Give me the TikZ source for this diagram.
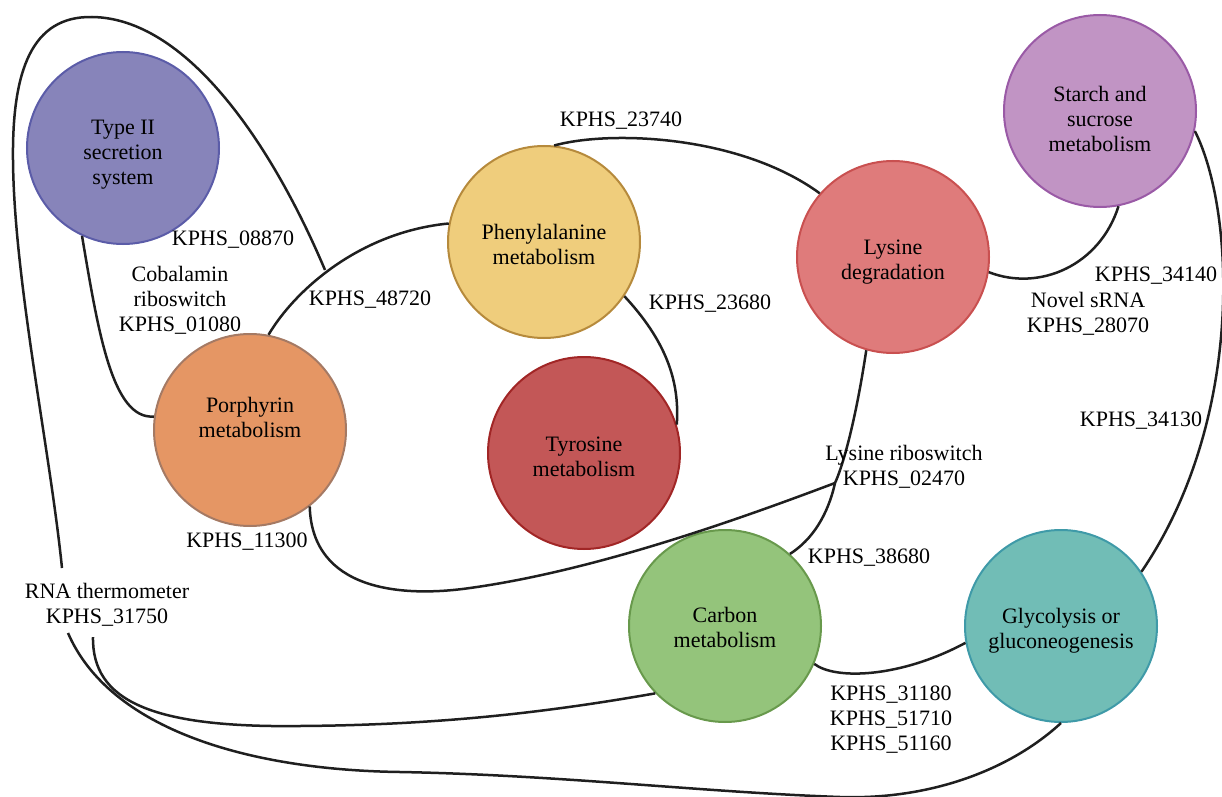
\documentclass[tikz,border=0pt]{standalone}
\usepackage{fontspec}
\setmainfont{Liberation Serif}
\definecolor{tFill}{HTML}{8784BA}\definecolor{tLine}{HTML}{5B5CA8}
\definecolor{pFill}{HTML}{EFCD7C}\definecolor{pLine}{HTML}{B68A3C}
\definecolor{lFill}{HTML}{DF7B7B}\definecolor{lLine}{HTML}{C95050}
\definecolor{sFill}{HTML}{C194C4}\definecolor{sLine}{HTML}{9A5AA6}
\definecolor{oFill}{HTML}{E59664}\definecolor{oLine}{HTML}{A57A64}
\definecolor{yFill}{HTML}{C35757}\definecolor{yLine}{HTML}{A12626}
\definecolor{cFill}{HTML}{94C47B}\definecolor{cLine}{HTML}{68994C}
\definecolor{gFill}{HTML}{71BDB6}\definecolor{gLine}{HTML}{3F9AA8}
\newcommand{\tpad}[1]{\rule{0pt}{#1pt}}
\begin{document}
\begin{tikzpicture}[x=0.5pt,y=-0.5pt,
  link/.style={draw=black!88, line width=1.25pt},
  pw/.style={circle, minimum size=96pt, inner sep=0pt, line width=1pt, align=center,
             font=\fontsize{11}{12.5}\selectfont},
  lab/.style={align=center, inner sep=0pt, font=\fontsize{11}{12.5}\selectfont}]
\useasboundingbox (0,0) rectangle (1222,797);

\coordinate (j1) at (325,270);
\coordinate (j2) at (835,483);
\coordinate (rnaTop) at (62,568);
\coordinate (rnaA) at (93,637);
\coordinate (rnaB) at (68,633);

% pathway circles
\node[pw, fill=tFill, draw=tLine] (t2)  at (123,148) {\tpad{13.5}Type II\\secretion\\system};
\node[pw, fill=pFill, draw=pLine] (phe) at (544,242) {\tpad{10.5}Phenylalanine\\metabolism};
\node[pw, fill=lFill, draw=lLine] (lys) at (893,257) {\tpad{12.5}Lysine\\degradation};
\node[pw, fill=sFill, draw=sLine] (sta) at (1100,111) {\tpad{15.5}Starch and\\sucrose\\metabolism};
\node[pw, fill=oFill, draw=oLine] (por) at (250,430) {Porphyrin\\metabolism\\~};
\node[pw, fill=yFill, draw=yLine] (tyr) at (584,453) {\tpad{11.5}Tyrosine\\metabolism};
\node[pw, fill=cFill, draw=cLine] (car) at (725,626) {\tpad{9.5}Carbon\\metabolism};
\node[pw, fill=gFill, draw=gLine] (gly) at (1061,626) {\tpad{12.5}Glycolysis or\\gluconeogenesis};

% connectors
\draw[link] (por.79.5) .. controls (295,290) and (360,232) .. (phe.169);
\draw[link] (j1) .. controls (270,140) and (185,18) .. (92,17)
   .. controls (32,16) and (12,70) .. (13,160)
   .. controls (14,280) and (50,450) .. (rnaTop);
\draw[link] (t2.245.8) .. controls (98,330) and (112,420) .. (por.172.8);
\draw[link] (por.308) .. controls (312,590) and (400,598) .. (470,588)
   .. controls (600,570) and (750,515) .. (j2);
\draw[link] (lys.254.7) .. controls (855,425) and (842,468) .. (j2)
   .. controls (828,515) and (812,540) .. (car.48.4);
\draw[link] (phe.84.7) .. controls (610,130) and (740,135) .. (lys.139.4);
\draw[link] (phe.326.8) .. controls (665,340) and (680,380) .. (tyr.17.7);
\draw[link] (lys.351) .. controls (1040,292) and (1100,265) .. (sta.281.7);
\draw[link] (sta.348.3) .. controls (1235,210) and (1245,420) .. (gly.34.8);
\draw[link] (car.337.4) .. controls (835,680) and (900,678) .. (gly.190.1);
\draw[link] (car.224.6) .. controls (560,710) and (450,725) .. (300,726)
   .. controls (150,728) and (92,700) .. (rnaA);
\draw[link] (gly.270) .. controls (1010,770) and (930,800) .. (840,797)
   .. controls (700,792) and (560,775) .. (400,772)
   .. controls (250,770) and (110,730) .. (rnaB);

% labels
\node[lab] (l08870) at (233,240) {KPHS\_08870};
\node[lab] (lcob)   at (180,300) {Cobalamin\\riboswitch\\KPHS\_01080};
\node[lab] (l48720) at (370,300) {KPHS\_48720};
\node[lab] (l23740) at (621,121) {KPHS\_23740};
\node[lab] (l23680) at (710,304) {KPHS\_23680};
\node[lab] (l34140) at (1156,276) {KPHS\_34140};
\node[lab] (lnov)   at (1088,314) {Novel sRNA\\KPHS\_28070};
\node[lab] (l34130) at (1141,421) {KPHS\_34130};
\node[lab] (l11300) at (247,542) {KPHS\_11300};
\node[lab] (lrna)   at (107,605) {RNA thermometer\\KPHS\_31750};
\node[lab] (llys)   at (904,467) {Lysine riboswitch\\KPHS\_02470};
\node[lab] (l38680) at (869,558) {KPHS\_38680};
\node[lab] (l3)     at (891,720) {KPHS\_31180\\KPHS\_51710\\KPHS\_51160};
\end{tikzpicture}
\end{document}
